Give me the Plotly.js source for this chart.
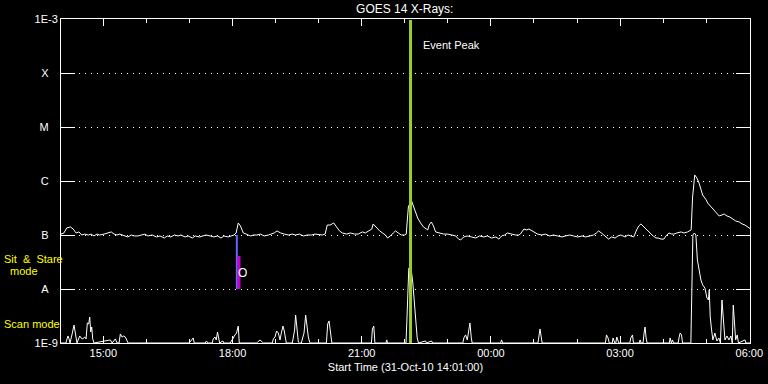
<!DOCTYPE html>
<html>
<head>
<meta charset="utf-8">
<script src="https://cdn.plot.ly/plotly-3.0.1.min.js"></script>
<style>html,body{margin:0;padding:0;background:#000;}#chart{width:768px;height:384px;}</style>
</head>
<body>
<div id="chart"></div>
<script>
// ---- Data ----
// Time axis: minutes elapsed since the start time 31-Oct-2010 14:01:00 UT
const startUTC = Date.UTC(2010, 9, 31, 14, 1, 0);

// Long channel (1-8 A), flux in units of 1e-7 W/m^2
const longMinutes = [0,4,8,13,17,21,25,29,33,38,42,46,50,54,60,66,70,74,78,82,88,93,98,102,107,112,117,121,127,133,138,144,148,153,158,163,167,173,177,183,187,193,197,202,208,213,218,223,227,233,237,241,244,247,250,254,258,264,268,273,278,283,289,293,297,301,306,311,317,322,327,332,338,343,349,354,360,364,368,371,375,380,384,388,392,398,403,409,414,420,424,428,433,435,440,444,448,452,455,459,463,466,470,474,479,481,484,488,491,494,497,501,505,511,513,516,519,522,527,533,539,544,550,554,557,561,566,572,578,583,589,594,600,606,610,614,618,622,628,633,638,640,645,649,652,656,660,664,670,675,681,686,692,698,703,709,714,720,726,731,737,742,746,749,753,758,763,767,772,776,780,786,790,794,798,802,805,808,812,816,821,825,829,832,836,840,843,847,851,854,858,864,868,873,878,880,883,886,889,892,894,899,901,906,910,914,917,921,924,928,932,936,940,945,949,953,957,961];
const longFlux_e7 = [1.04,1.09,1.35,1.41,1.29,1.09,1.14,1.00,1.04,1.00,1.04,0.96,1.04,1.00,1.04,1.09,1.14,1.04,1.00,1.04,0.96,0.92,1.00,0.96,0.96,1.00,1.04,0.96,1.00,0.92,0.96,0.88,0.96,0.92,1.00,0.96,1.00,0.92,0.96,0.88,0.96,0.92,0.96,1.00,0.96,0.92,0.96,0.88,0.96,0.92,0.96,1.00,1.09,1.67,1.47,1.09,1.04,0.96,1.00,1.00,1.04,0.96,1.00,1.04,1.09,1.19,1.09,1.04,1.00,1.04,1.00,1.04,0.96,1.00,1.00,1.04,1.00,1.00,1.04,1.53,1.53,1.67,1.41,1.19,1.09,1.04,1.09,1.04,1.04,1.14,1.09,1.19,1.29,1.60,1.35,1.19,1.09,1.00,0.88,0.96,1.09,1.19,1.09,1.00,1.00,1.04,3.30,4.45,3.44,2.66,2.06,1.67,1.41,1.24,1.53,1.74,1.47,1.14,1.09,1.04,1.04,1.00,0.96,0.84,0.81,0.92,0.96,0.92,0.88,0.96,0.92,0.96,0.88,0.92,0.84,0.96,1.00,1.09,1.04,1.00,1.00,1.04,1.29,1.24,1.29,1.19,1.09,1.04,1.00,1.04,0.96,1.00,0.96,0.92,0.96,1.00,0.96,0.92,0.96,0.92,0.96,1.00,1.09,1.19,1.09,0.96,0.84,0.92,0.88,0.96,1.00,0.92,1.00,0.96,0.92,1.24,1.47,1.60,1.41,1.24,1.09,0.96,0.88,0.88,0.84,0.84,0.96,1.09,1.04,1.04,1.09,1.14,1.09,1.14,1.24,5.05,12.9,11.4,9.19,7.11,5.50,4.45,3.91,3.30,2.90,2.56,2.25,2.35,2.45,2.25,2.15,1.98,1.82,1.74,1.60,1.53,1.41,1.29];

// Short channel (0.5-4 A), flux in units of 1e-9 W/m^2 (1 = at the 1E-9 floor)
const shortMinutes = [0,7.0,8.4,9.8,11.2,12.6,15.8,18.1,20.0,22.3,26.1,27.9,30.3,33.1,34.9,36.7,38.6,40.0,41.4,42.8,44.2,46.0,68.8,71.2,75.8,78.1,80.9,82.7,85.1,87.5,89.7,92.1,93.5,178.6,182.4,184.2,185.6,200.9,202.7,204.4,210.7,212.1,214.5,216.3,218.1,220.0,221.0,225.6,227.0,235.8,237.2,240.0,242.4,244.6,247.0,248.4,272.1,273.9,277.3,280.5,281.9,294.4,295.8,298.2,300.4,302.8,305.2,307.0,309.3,311.1,313.0,313.9,322.3,323.7,325.5,326.9,328.9,330.7,332.1,334.9,336.7,338.6,340.9,342.8,344.6,346.4,347.4,369.8,371.6,373.5,374.9,376.3,377.4,432.5,433.9,435.8,437.4,452.8,453.9,454.9,480.7,481.8,482.6,484.6,486.0,488.4,490.2,491.6,493.9,496.3,498.1,507.9,509.3,516.3,517.7,559.9,561.3,563.7,566.1,568.4,569.8,571.7,572.9,612.5,613.9,615.3,664.6,666.0,667.4,669.3,670.4,758.6,760.0,762.2,763.9,768.1,769.2,771.6,773.0,774.4,777.2,792.5,793.9,796.3,797.6,805.7,806.9,808.2,811.0,812.4,813.8,815.2,816.6,847.6,848.7,850.4,852.0,853.4,859.9,861.3,862.7,864.6,866.0,877.6,878.6,880.4,882.5,884.6,886.7,888.8,891.6,894.0,897.2,900.0,902.1,903.2,904.6,906.5,908.3,911.1,913.9,916.7,918.8,920.9,922.7,925.1,927.9,930.7,933.4,935.3,936.7,938.1,940.0,942.2,943.9,953.0,954.4,961.3];
const shortFlux_e9 = [1,1,1.19,1.35,1.19,1,1.53,2.15,1.53,1,1.35,1.24,1.19,1.29,1.19,2.35,2.25,3.03,1.60,1.98,1.19,1,1.14,1,1.19,1,1,1.47,1.29,1.35,1.29,1.09,1,1,1.19,1.24,1,1,1.09,1,1,1.19,1.29,1.14,1.60,1.14,1,1.09,1,1,1.09,1.24,1.41,1.53,2.06,1,1,1.04,1.14,1.04,1,1,1.19,1.29,1.67,1.53,1.14,1.53,2.06,1.67,1.14,1,1,1.24,1.74,3.30,1.90,1.04,1,1,1.24,1.53,3.30,1.98,1.29,1.04,1,1,2.25,2.56,1.90,1.41,1,1,1.82,2.06,1,1,1.14,1,1,2.35,6.26,24.5,24.5,20.6,12.9,6.81,2.45,1.24,1,1.09,1,1.09,1,1,1.24,1.41,1.14,1.98,2.35,1.24,1,1,1.14,1,1,1.35,1.82,1.24,1,1,1.41,1.24,1,1,1.24,1,1,1.29,1,1,1.24,1.41,1,1,1.14,1,1,1.53,1.98,1.24,1,1,1.24,1,1.14,1,1,1.29,1.53,1.41,1,1,12.9,100,109,100,34.4,24.5,14.7,11.9,10.4,6.81,6.26,9.58,3.03,1.74,1.14,1.53,1.09,1.24,1,6.26,3.03,1.14,1.35,1.14,1.35,1,5.05,3.03,1.14,1.41,1,1.14,1,1];

// Axis ticks
const yTickVals = [1e-9, 1e-8, 1e-7, 1e-6, 1e-5, 1e-4, 1e-3];
const yTickText = ['1E-9', 'A\u00a0\u00a0\u00a0', 'B\u00a0\u00a0\u00a0', 'C\u00a0\u00a0\u00a0', 'M\u00a0\u00a0\u00a0', 'X\u00a0\u00a0\u00a0', '1E-3'];
const xRangeMinutes = [0, 960];
const xMajorStartMinute = 59; // 15:00

// Event markers (minutes since start)
const eventPeakMinute = 487;        // 22:08
const sitStareMinute = 245;         // 18:06
const sitStareBarMinute = 248;
const sitStareBarTop = 4.1e-8;

// ---- helpers ----
function t(min) {
  return new Date(startUTC + min * 60000).toISOString().replace('T', ' ').slice(0, 19);
}

const longTrace = {
  x: longMinutes.map(t),
  y: longFlux_e7.map(v => v * 1e-7),
  type: 'scatter', mode: 'lines',
  line: {color: '#ffffff', width: 1},
  hoverinfo: 'skip'
};
const shortTrace = {
  x: shortMinutes.map(t),
  y: shortFlux_e9.map(v => v * 1e-9),
  type: 'scatter', mode: 'lines',
  line: {color: '#ffffff', width: 1},
  hoverinfo: 'skip'
};

const layout = {
  width: 768, height: 384,
  margin: {l: 61, r: 18, t: 19, b: 41, pad: 0},
  paper_bgcolor: '#000000', plot_bgcolor: '#000000',
  font: {family: 'Liberation Sans, Arial, sans-serif', color: '#ffffff', size: 11},
  showlegend: false,
  title: {text: 'GOES 14 X-Rays:', x: 0.527, xanchor: 'center', y: 0.978, yanchor: 'middle', font: {size: 12, color: '#ffffff'}},
  xaxis: {
    type: 'date',
    range: [t(xRangeMinutes[0]), t(xRangeMinutes[1])],
    tick0: t(xMajorStartMinute), dtick: 3 * 3600000,
    tickformat: '%H:%M',
    ticks: 'inside', ticklen: 7, tickcolor: '#ffffff', tickwidth: 1,
    minor: {dtick: 3600000, ticks: 'inside', ticklen: 4, tickcolor: '#ffffff', showgrid: false},
    showline: true, linecolor: '#ffffff', linewidth: 1, mirror: 'ticks',
    showgrid: false, zeroline: false,
    tickfont: {size: 11, color: '#ffffff'},
    title: {text: 'Start Time (31-Oct-10 14:01:00)', font: {size: 11, color: '#ffffff'}, standoff: 5}
  },
  yaxis: {
    type: 'log',
    range: [-9, -3],
    tickmode: 'array', tickvals: yTickVals, ticktext: yTickText,
    ticks: 'inside', ticklen: 14, tickcolor: '#ffffff', tickwidth: 1,
    showline: true, linecolor: '#ffffff', linewidth: 1, mirror: 'ticks',
    showgrid: true, gridcolor: '#ffffff', gridwidth: 1, griddash: '1px,5px',
    zeroline: false,
    tickfont: {size: 11, color: '#ffffff'}
  },
  shapes: [
    {type: 'line', xref: 'x', yref: 'paper', x0: t(eventPeakMinute), x1: t(eventPeakMinute), y0: 0, y1: 0.997,
     line: {color: '#9acd32', width: 3}},
    {type: 'line', xref: 'x', yref: 'y', x0: t(sitStareMinute), x1: t(sitStareMinute), y0: 1e-8, y1: 1e-7,
     line: {color: '#6464ff', width: 2}},
    {type: 'line', xref: 'x', yref: 'y', x0: t(sitStareBarMinute), x1: t(sitStareBarMinute), y0: 1e-8, y1: sitStareBarTop,
     line: {color: '#c800c8', width: 3}}
  ],
  annotations: [
    {text: 'Event Peak', xref: 'x', yref: 'paper', x: t(eventPeakMinute + 14), y: 0.92, xanchor: 'left', yanchor: 'middle', showarrow: false, font: {size: 11, color: '#ffffff'}},
    {text: 'O', xref: 'x', yref: 'y', x: t(sitStareBarMinute + 5), y: Math.log10(2e-8), xanchor: 'center', yanchor: 'middle', showarrow: false, font: {size: 12, color: '#ffffff'}},
    {text: 'Sit\u00a0\u00a0&amp;\u00a0\u00a0Stare', xref: 'paper', yref: 'paper', x: -0.0855, y: 0.26, xanchor: 'left', yanchor: 'middle', showarrow: false, font: {size: 11, color: '#ffff00'}},
    {text: 'mode', xref: 'paper', yref: 'paper', x: -0.053, y: 0.222, xanchor: 'center', yanchor: 'middle', showarrow: false, font: {size: 11, color: '#ffff00'}},
    {text: 'Scan mode', xref: 'paper', yref: 'paper', x: -0.0855, y: 0.059, xanchor: 'left', yanchor: 'middle', showarrow: false, font: {size: 11, color: '#ffff00'}}
  ]
};

Plotly.newPlot('chart', [longTrace, shortTrace], layout, {staticPlot: true, displayModeBar: false});
</script>
</body>
</html>
